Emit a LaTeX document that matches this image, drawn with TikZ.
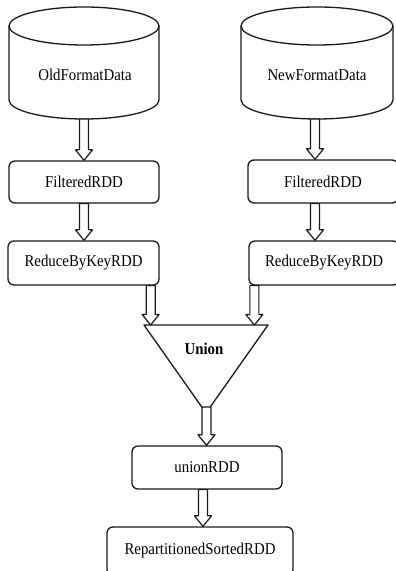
\documentclass[tikz,border=0pt]{standalone}
\usepackage{fontspec}
\setmainfont{Liberation Serif}[FakeStretch=0.9]
\usetikzlibrary{calc}
\newcommand\harrow[2]{\draw[arrowline] ($(#1)+(-4.5,0)$) -- ($(#1 |- #2)+(-4.5,10.5)$) -- ($(#1 |- #2)+(-8.5,10.5)$) -- (#1 |- #2) -- ($(#1 |- #2)+(8.5,10.5)$) -- ($(#1 |- #2)+(4.5,10.5)$) -- ($(#1)+(4.5,0)$) -- cycle;}
\begin{document}
\begin{tikzpicture}[x=1pt,y=1pt,line join=round,
  lw/.style={draw=black!90, line width=1.3pt},
  box/.style={lw, rounded corners=6pt, inner sep=0pt, font=\fontsize{16.5}{18}\selectfont},
  lbl/.style={inner sep=0pt, font=\fontsize{16.5}{18}\selectfont},
  arrowline/.style={draw=black!90, line width=1.2pt, fill=white}]
\useasboundingbox (0,0) rectangle (396,571);
\clip (0,0) rectangle (396,571);
% cylinders
\draw[lw] (84,545) ellipse [x radius=75, y radius=19];
\draw[lw] (9,545) -- (9,471) arc[start angle=180, end angle=360, x radius=75, y radius=19] -- (159,545);
\coordinate (oldb) at (84,452);
\node[lbl] (old) at (85,496) {OldFormatData};
\draw[lw] (317,545) ellipse [x radius=76, y radius=19];
\draw[lw] (241,545) -- (241,471) arc[start angle=180, end angle=360, x radius=76, y radius=19] -- (393,545);
\coordinate (newb) at (315,452);
\node[lbl] (new) at (317,496) {NewFormatData};
% boxes
\node[box, minimum width=150pt, minimum height=42pt] (filL) at (84,389) {FilteredRDD};
\node[box, minimum width=150pt, minimum height=43pt] (filR) at (323,389.5) {FilteredRDD};
\node[box, minimum width=151pt, minimum height=44pt] (redL) at (83.5,308) {ReduceByKeyRDD};
\node[box, minimum width=150pt, minimum height=44pt] (redR) at (324,308) {ReduceByKeyRDD};
% union triangle
\draw[lw] (144,246) coordinate (tl) -- (268,246) coordinate (tr) -- (206,158) coordinate (ap) -- cycle;
\node[lbl, font=\fontsize{16.5}{18}\selectfont\bfseries] (union) at (204,222) {Union};
\node[box, minimum width=150pt, minimum height=43pt] (unr) at (207,103.5) {unionRDD};
\node[box, minimum width=186pt, minimum height=48pt] (rep) at (200,20) {RepartitionedSortedRDD};
% arrows
\harrow{oldb}{filL.north}
\harrow{newb}{filR.north}
\harrow{filL.south}{redL.north}
\coordinate (fr) at ($(filR.south)+(-8,0)$);
\harrow{fr}{redR.north}
\coordinate (rl) at ($(redL.south east)+(-9,0)$);
\harrow{rl}{tl}
\coordinate (rr) at ($(redR.south west)+(6,0)$);
\harrow{rr}{tr}
\coordinate (us) at (206.5,164);
\harrow{us}{unr.north}
\coordinate (ub) at ($(unr.south)+(-4,0)$);
\harrow{ub}{rep.north}
\end{tikzpicture}
\end{document}
